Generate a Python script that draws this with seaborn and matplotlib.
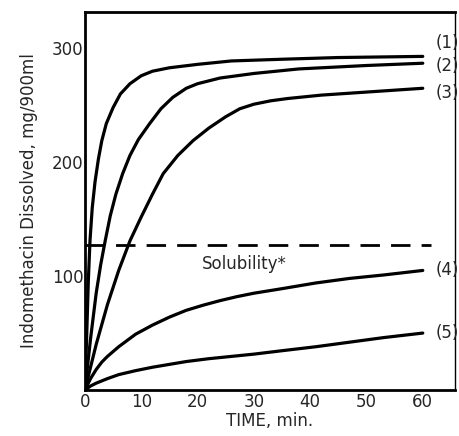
import matplotlib
matplotlib.use("Agg")
import matplotlib.pyplot as plt
import seaborn as sns
import pandas as pd

# ---- data ----
t1 = [0, 0.3, 0.6, 0.9, 1.3, 1.8, 2.4, 3, 3.8, 5, 6.3, 8, 10, 12, 15, 20, 26, 35, 45, 60]
v1 = [0, 45, 95, 131, 160, 183, 203, 219, 234, 248, 260, 269, 276, 280, 283, 286, 289, 290.5, 292, 293]

t2 = [0, 1, 2, 2.8, 3.6, 4.5, 5.5, 6.7, 8, 9.5, 11.5, 13.5, 15.6, 18, 20, 24, 30, 38, 50, 60]
v2 = [0, 45, 85, 110, 131, 153, 172, 190, 206, 220, 234, 247, 257, 265, 269, 274, 278, 282, 285, 287]

t3 = [0, 2, 4, 6, 8, 10, 12, 13.9, 16.5, 19.2, 22, 25, 27.5, 30, 33, 36, 42, 48, 54, 60]
v3 = [0, 40, 75, 105, 131, 152, 172, 190, 206, 219, 230, 240, 247, 251, 254, 256, 259, 261, 263, 265]

t4 = [0, 1, 2, 3, 4, 6, 9, 12, 15, 18, 21, 24, 27, 30, 35, 41, 47, 53, 60]
v4 = [0, 10, 18, 24.5, 29.5, 38, 49, 57, 64, 70, 74.5, 78.5, 82, 85, 89, 94, 98, 101, 105]

t5 = [0, 1, 2, 4, 6, 9, 12, 15, 18, 22, 26, 30, 35, 41, 47, 53, 60]
v5 = [0, 3.5, 6, 10, 13.5, 17, 20, 22.5, 25, 27.5, 29.5, 31.5, 34.5, 38, 42, 46, 50]

curve_names = ["(1)", "(2)", "(3)", "(4)", "(5)"]
solubility_t = [0, 61.5]
solubility_v = [127, 127]
solubility_label = "Solubility*"

x_ticks = [0, 10, 20, 30, 40, 50, 60]
y_ticks = [100, 200, 300]
x_label = "TIME, min."
y_label = "Indomethacin Dissolved, mg/900ml"

# ---- build long table ----
rows = []
for name, ts, vs in zip(curve_names, [t1, t2, t3, t4, t5], [v1, v2, v3, v4, v5]):
    for t, v in zip(ts, vs):
        rows.append({"time": t, "value": v, "curve": name})
df = pd.DataFrame(rows)

sns.set_theme(style="white")
plt.rcParams["font.family"] = ["DejaVu Sans"]

fig = plt.figure(figsize=(4.59, 4.36), dpi=100)
ax = fig.add_axes([0.185, 0.1055, 0.806, 0.867])

sns.lineplot(data=df, x="time", y="value", units="curve", estimator=None,
             color="black", linewidth=2.3, ax=ax, sort=False)
for ln in ax.lines:
    ln.set_solid_joinstyle("round")
    ln.set_solid_capstyle("round")

sol = pd.DataFrame({"time": solubility_t, "value": solubility_v})
sns.lineplot(data=sol, x="time", y="value", color="black", linewidth=2.0,
             ax=ax)
ax.lines[-1].set_linestyle((0, (7, 4)))

ax.text(20.8, 111, solubility_label, fontsize=12, ha="left", va="center")

label_y = [305, 285, 261, 105, 50]
for name, ly in zip(curve_names, label_y):
    ax.text(64.3, ly, name, fontsize=12, ha="center", va="center")

ax.set_xlim(0, 65.7)
ax.set_ylim(0, 332)
ax.set_xticks(x_ticks)
ax.set_yticks(y_ticks)
ax.set_xticklabels([str(x) for x in x_ticks], fontsize=12)
ax.set_yticklabels([str(y) for y in y_ticks], fontsize=12)
ax.tick_params(axis="both", direction="in", length=4, width=2, color="black",
               pad=2)
ax.tick_params(axis="y", pad=1)
ax.set_xlabel(x_label, fontsize=12, labelpad=1)
ax.set_ylabel(y_label, fontsize=12, labelpad=10)

for side in ["left", "bottom", "top"]:
    ax.spines[side].set_color("black")
    ax.spines[side].set_linewidth(2.0)
ax.spines["right"].set_color("black")
ax.spines["right"].set_linewidth(1.0)
if ax.get_legend():
    ax.get_legend().remove()

fig.savefig("out.png", dpi=100, facecolor="white")
